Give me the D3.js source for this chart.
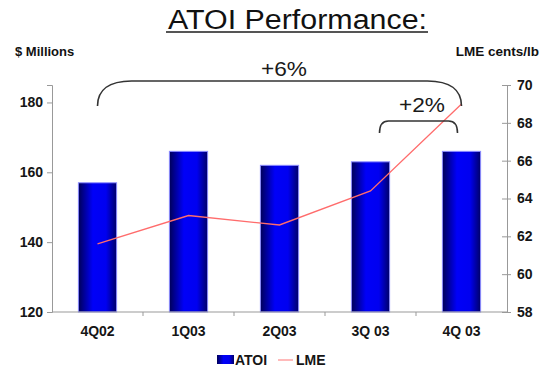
<!DOCTYPE html>
<html>
<head>
<meta charset="utf-8">
<script src="https://cdn.jsdelivr.net/npm/d3@7/dist/d3.min.js"></script>
<style>
  html, body { margin: 0; padding: 0; background: #fff; }
  svg { display: block; font-family: "Liberation Sans", Arial, sans-serif; }
</style>
</head>
<body>
<svg id="chart" width="546" height="371"></svg>
<script>
// Quarterly data
const quarters = ["4Q02", "1Q03", "2Q03", "3Q 03", "4Q 03"];
const atoi = [157, 166, 162, 163, 166];          // $ Millions (left axis)
const lme = [61.6, 63.1, 62.6, 64.4, 69.0];      // LME cents/lb (right axis)
const leftTicks = [120, 140, 160, 180];
const rightTicks = [58, 60, 62, 64, 66, 68, 70];
// Growth callouts: [from quarter, to quarter, label]
const calloutFrom = ["4Q02", "3Q 03"];
const calloutTo = ["4Q 03", "4Q 03"];
const calloutText = ["+6%", "+2%"];

const svg = d3.select("#chart");
const plotL = 52, plotR = 507, plotT = 85, plotB = 312;

const x = d3.scaleBand().domain(quarters).range([plotL, plotR])
  .paddingInner(0.58).paddingOuter(0.29);
const y = d3.scaleLinear().domain([120, 185]).range([plotB, plotT]);
const y2 = d3.scaleLinear().domain([58, 70]).range([plotB, plotT]);

// Bar gradient: dark edges, bright blue body
const defs = svg.append("defs");
const grad = defs.append("linearGradient").attr("id", "barGrad")
  .attr("x1", "0").attr("x2", "1").attr("y1", "0").attr("y2", "0");
grad.append("stop").attr("offset", "0%").attr("stop-color", "#000058");
grad.append("stop").attr("offset", "38%").attr("stop-color", "#0000f8");
grad.append("stop").attr("offset", "72%").attr("stop-color", "#0000f0");
grad.append("stop").attr("offset", "100%").attr("stop-color", "#000068");

// Title
svg.append("text")
  .attr("x", 297.5).attr("y", 28.5)
  .attr("text-anchor", "middle")
  .attr("font-size", 27)
  .attr("fill", "#111")
  .attr("textLength", 259)
  .attr("lengthAdjust", "spacingAndGlyphs")
  .text("ATOI Performance:");
svg.append("line")
  .attr("x1", 166).attr("x2", 428).attr("y1", 32).attr("y2", 32)
  .attr("stroke", "#555").attr("stroke-width", 2);

// Axis titles
svg.append("text").attr("x", 15).attr("y", 56)
  .attr("font-size", 13).attr("font-weight", "bold").attr("fill", "#111")
  .text("$ Millions");
svg.append("text").attr("x", 539).attr("y", 56).attr("text-anchor", "end")
  .attr("font-size", 13.5).attr("font-weight", "bold").attr("fill", "#111")
  .text("LME cents/lb");

// Bars
svg.append("g").selectAll("rect").data(quarters).join("rect")
  .attr("x", d => x(d))
  .attr("y", (d, i) => y(atoi[i]))
  .attr("width", x.bandwidth())
  .attr("height", (d, i) => y(120) - y(atoi[i]))
  .attr("fill", "url(#barGrad)")
  .attr("stroke", "#8c8cff")
  .attr("stroke-width", 1);

// Left axis
const gL = svg.append("g").attr("transform", `translate(${plotL},0)`)
  .call(d3.axisLeft(y).tickValues(leftTicks).tickSize(5).tickPadding(4));
// Right axis
const gR = svg.append("g").attr("transform", `translate(${plotR},0)`)
  .call(d3.axisRight(y2).tickValues(rightTicks).tickSize(4).tickPadding(6));
gR.selectAll(".tick line").attr("x1", -5);
// Bottom axis with ticks between categories
const gB = svg.append("g").attr("transform", `translate(0,${plotB})`)
  .call(d3.axisBottom(x).tickSize(0).tickPadding(14));
const step = x.step();
gB.selectAll(".between").data(quarters.slice(1)).join("line")
  .attr("class", "between")
  .attr("x1", d => x(d) - x.paddingInner() * step / 2)
  .attr("x2", d => x(d) - x.paddingInner() * step / 2)
  .attr("y1", 0).attr("y2", 4)
  .attr("stroke", "#999");

[gL, gR, gB].forEach(g => {
  g.select(".domain").attr("stroke", "#999").attr("stroke-width", 1);
  g.selectAll(".tick line").attr("stroke", "#999");
  g.selectAll(".tick text")
    .attr("font-family", "Liberation Sans, Arial, sans-serif")
    .attr("font-size", 14).attr("font-weight", "bold").attr("fill", "#151515");
});
gB.select(".domain").attr("d", `M${plotL},0H${plotR}`);

// LME line
const line = d3.line()
  .x((d, i) => x(quarters[i]) + x.bandwidth() / 2)
  .y(d => y2(d));
svg.append("path").datum(lme)
  .attr("d", line)
  .attr("fill", "none")
  .attr("stroke", "#ff6c6c")
  .attr("stroke-width", 1.3);

// Growth callout brackets
const cx = q => x(q) + x.bandwidth() / 2;
const brackets = [
  { x0: cx(calloutFrom[0]), x1: cx(calloutTo[0]), top: 81, end: 106, rx: 34, tx: 284, ty: 76 },
  { x0: cx(calloutFrom[1]) + 9, x1: cx(calloutTo[1]) - 4, top: 121, end: 133, rx: 9, tx: 422, ty: 112 }
];
brackets.forEach((b, i) => {
  const p = d3.path();
  p.moveTo(b.x0, b.end);
  p.bezierCurveTo(b.x0, b.top + (b.end - b.top) * 0.35, b.x0 + b.rx * 0.35, b.top, b.x0 + b.rx, b.top);
  p.lineTo(b.x1 - b.rx, b.top);
  p.bezierCurveTo(b.x1 - b.rx * 0.35, b.top, b.x1, b.top + (b.end - b.top) * 0.35, b.x1, b.end);
  svg.append("path").attr("d", p.toString())
    .attr("fill", "none").attr("stroke", "#333").attr("stroke-width", 1.6);
  svg.append("text").attr("x", b.tx).attr("y", b.ty)
    .attr("text-anchor", "middle").attr("font-size", 20).attr("fill", "#1a1a1a")
    .attr("textLength", 46).attr("lengthAdjust", "spacingAndGlyphs")
    .text(calloutText[i]);
});

// Legend
const lg = svg.append("g");
lg.append("rect").attr("x", 217).attr("y", 355).attr("width", 17).attr("height", 9)
  .attr("fill", "url(#barGrad)");
lg.append("text").attr("x", 235).attr("y", 365)
  .attr("font-size", 14).attr("font-weight", "bold").attr("fill", "#151515").text("ATOI");
lg.append("line").attr("x1", 278).attr("x2", 293).attr("y1", 360).attr("y2", 360)
  .attr("stroke", "#ff8c8c").attr("stroke-width", 1.2);
lg.append("text").attr("x", 296).attr("y", 365)
  .attr("font-size", 14).attr("font-weight", "bold").attr("fill", "#151515").text("LME");
</script>
</body>
</html>
